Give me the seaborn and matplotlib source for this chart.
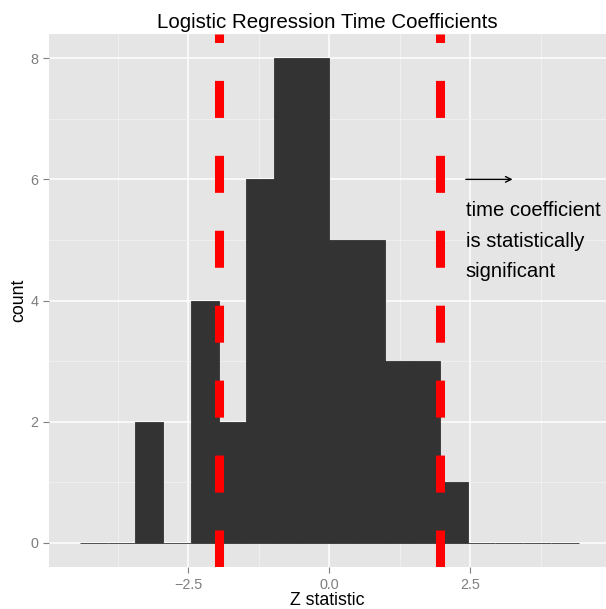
import numpy as np
import matplotlib
matplotlib.use("Agg")
import matplotlib.pyplot as plt
import seaborn as sns

# Binned Z statistics of the time coefficient (18 bins over [-4.42, 4.42])
bin_range = (-4.42, 4.42)
n_bins = 18
bin_counts = [0, 0, 2, 0, 4, 2, 6, 8, 8, 5, 5, 3, 3, 1, 0, 0, 0, 0]
critical_z = [-1.96, 1.96]
x_ticks = [-2.5, 0.0, 2.5]
x_minor = [-3.75, -1.25, 1.25, 3.75]
y_ticks = [0, 2, 4, 6, 8]
y_minor = [1, 3, 5, 7]
note_text = "time coefficient\nis statistically\nsignificant"

sns.set_style("darkgrid", {"axes.facecolor": "#E5E5E5", "grid.color": "white"})
plt.rcParams["font.family"] = ["Liberation Sans", "DejaVu Sans"]

edges = np.linspace(bin_range[0], bin_range[1], n_bins + 1)
centers = (edges[:-1] + edges[1:]) / 2

fig = plt.figure(figsize=(6.06, 6.09), dpi=100)
ax = fig.add_axes([49 / 606, 1 - 567 / 609, 1 - 49 / 606, (567 - 34) / 609])

sns.histplot(x=centers, weights=bin_counts, bins=n_bins, binrange=bin_range,
             color="#333333", edgecolor="#333333", linewidth=0.6, alpha=1,
             ax=ax, zorder=2)

for z in critical_z:
    ax.axvline(z, color="#FF0000", linewidth=6.5, dashes=(4.1, 4.2),
               dash_capstyle="butt", zorder=3)

ax.annotate("", xy=(3.25, 6), xytext=(2.42, 6),
            arrowprops=dict(arrowstyle="->", lw=1.0, color="black",
                            mutation_scale=10, shrinkA=0, shrinkB=0), zorder=4)
ax.text(2.42, 4.98, note_text, ha="left", va="center", fontsize=14.6,
        linespacing=1.76, color="black", zorder=4)

ax.set_xlim(-4.97, 4.906)
ax.set_ylim(-0.4, 8.4)
ax.set_xticks(x_ticks)
ax.set_xticklabels([f"{t:.1f}".replace("-", "\u2212") for t in x_ticks])
ax.set_yticks(y_ticks)
ax.set_xticks(x_minor, minor=True)
ax.set_yticks(y_minor, minor=True)

ax.grid(which="major", color="white", linewidth=1.1)
ax.grid(which="minor", color="#F2F2F2", linewidth=0.6)
ax.set_axisbelow(True)
for s in ax.spines.values():
    s.set_visible(False)

ax.tick_params(which="major", length=4.25, width=0.8, color="#7F7F7F",
               labelcolor="#7F7F7F", labelsize=10.4, pad=3.5,
               bottom=True, left=True)
ax.tick_params(which="minor", length=0, bottom=False, left=False)

ax.set_xlabel("Z statistic", fontsize=12.8, color="black", labelpad=0.5)
ax.set_ylabel("count", fontsize=12.8, color="black", labelpad=2.5)
ax.set_title("Logistic Regression Time Coefficients", fontsize=14.8,
             color="black", pad=4)

fig.savefig("out.png", dpi=100)
